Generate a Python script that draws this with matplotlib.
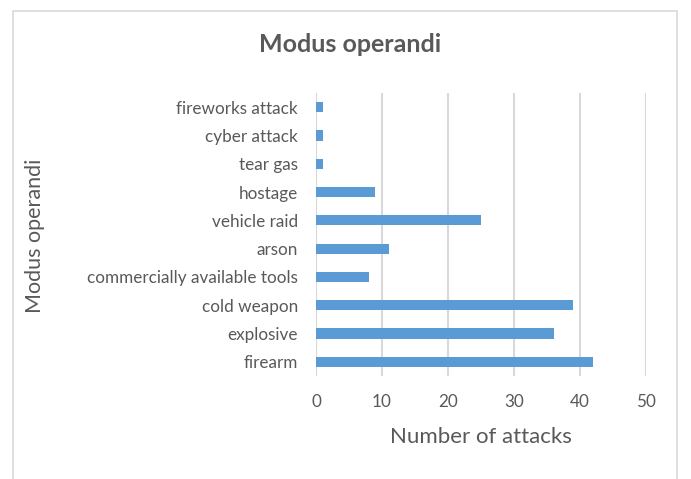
import matplotlib
matplotlib.use('Agg')
import matplotlib.pyplot as plt
from matplotlib.patches import Rectangle

# attack methods, bottom to top
methods = ['firearm', 'explosive', 'cold weapon', 'commercially available tools',
           'arson', 'vehicle raid', 'hostage', 'tear gas', 'cyber attack',
           'fireworks attack']
attacks = [42, 36, 39, 8, 11, 25, 9, 1, 1, 1]
x_ticks = [0, 10, 20, 30, 40, 50]

plt.rcParams['font.family'] = ['Lato', 'DejaVu Sans']
grey = '#595959'

fig = plt.figure(figsize=(6.91, 4.79), dpi=100)
# outer chart border
fig.patches.append(Rectangle((13 / 691, -0.01), 664 / 691, 1 - 11 / 479 + 0.01,
                             transform=fig.transFigure, fill=False,
                             edgecolor='#D9D9D9', linewidth=1.2))

ax = fig.add_axes([316 / 691, 1 - 376 / 479, 330 / 691, 283 / 479])
ax.barh(range(len(methods)), attacks, height=0.36, color='#5B9BD5', zorder=3)
ax.set_xlim(0, 50)
ax.set_ylim(-0.5, len(methods) - 0.5)
ax.set_xticks(x_ticks)
ax.set_yticks(range(len(methods)))
ax.set_yticklabels(methods)
ax.tick_params(length=0, colors=grey, labelsize=12.3)
ax.tick_params(axis='x', pad=13)
ax.tick_params(axis='y', pad=13)
ax.grid(axis='x', color='#D9D9D9', linewidth=1.5, zorder=0)
for s in ax.spines.values():
    s.set_visible(False)

ax.set_xlabel('Number of attacks', color=grey, fontsize=16, labelpad=12)
fig.text(35 / 691, 1 - 236 / 479, 'Modus operandi', rotation=90, color=grey,
         fontsize=15.5, ha='center', va='center')
fig.text(350 / 691, 1 - 45 / 479, 'Modus operandi', color=grey,
         fontsize=18, fontweight='bold', ha='center', va='center')

fig.savefig('out.png', dpi=100)
